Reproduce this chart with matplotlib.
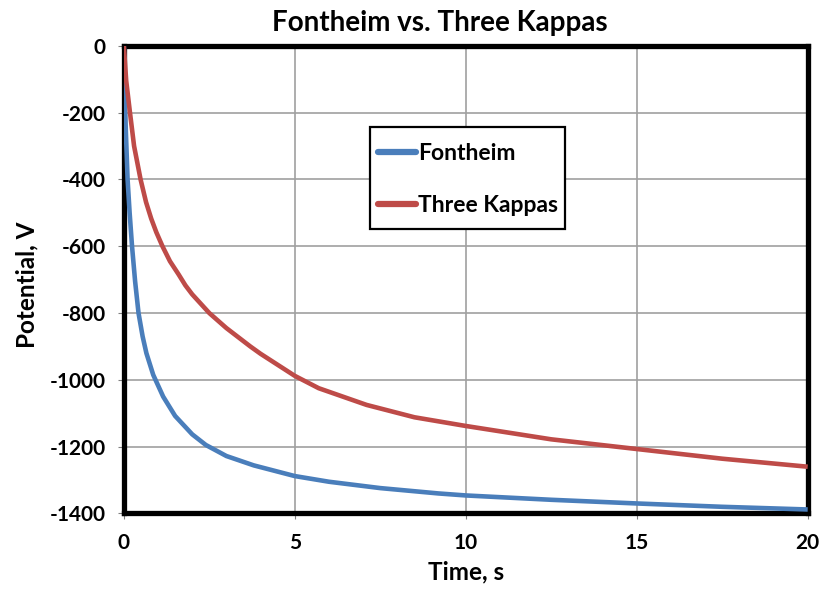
import matplotlib.pyplot as plt
from matplotlib.patches import Rectangle

# values
font_t = [0, 0.04, 0.11, 0.17, 0.24, 0.33, 0.43, 0.55, 0.66, 0.86, 1.15, 1.5, 2.0, 2.4, 3.0, 3.8, 5.0,
          6.0, 7.5, 9.2, 10.0, 12.5, 15.0, 17.5, 20.0]
font_v = [0, -200, -400, -500, -600, -705, -800, -870, -920, -985, -1050, -1108, -1163, -1195, -1228, -1256, -1288,
          -1305, -1324, -1340, -1346, -1359, -1370, -1380, -1388]

kappa_t = [0, 0.07, 0.18, 0.3, 0.49, 0.65, 0.8, 0.95, 1.13, 1.35, 1.6, 1.8, 2.0, 2.5, 3.0, 3.7, 4.0, 5.0, 5.7,
           7.1, 8.5, 10.0, 12.5, 15.0, 17.5, 20.0]
kappa_v = [0, -105, -200, -300, -400, -468, -517, -558, -600, -645, -684, -717, -744, -800, -845, -900, -922, -988, -1025,
           -1075, -1112, -1138, -1178, -1207, -1236, -1260]

xticks = [0, 5, 10, 15, 20]
yticks = [0, -200, -400, -600, -800, -1000, -1200, -1400]

plt.rcParams['font.family'] = ['Lato', 'DejaVu Sans']
plt.rcParams['font.weight'] = 'bold'
plt.rcParams['axes.unicode_minus'] = False

fig = plt.figure(figsize=(8.2, 5.95), dpi=100)
ax = fig.add_axes([0.151, 0.137, 0.834, 0.786])

ax.plot(font_t, font_v, color='#4a7ebb', lw=3.3, label='Fontheim', zorder=3,
        solid_capstyle='butt', solid_joinstyle='round')
ax.plot(kappa_t, kappa_v, color='#be4b48', lw=3.3, label='Three Kappas', zorder=3,
        solid_capstyle='butt', solid_joinstyle='round')

ax.set_xlim(0, 20)
ax.set_ylim(-1400, 0)
ax.set_xticks(xticks)
ax.set_yticks(yticks)
ax.tick_params(labelsize=15, direction='out', length=4, color='#808080')
ax.tick_params(axis='x', pad=10)
ax.tick_params(axis='y', pad=9)
for lab in ax.get_xticklabels() + ax.get_yticklabels():
    lab.set_fontweight('bold')
ax.grid(True, color='#a0a0a0', lw=1.2)
ax.set_axisbelow(True)
for s in ax.spines.values():
    s.set_linewidth(3.8)
    s.set_color('black')

ax.set_title('Fontheim vs. Three Kappas', fontsize=20, fontweight='bold', pad=11, x=0.462)
ax.set_xlabel('Time, s', fontsize=17.5, fontweight='bold')
ax.set_ylabel('Potential, V', fontsize=17.5, fontweight='bold')
ax.xaxis.set_label_coords(0.5, -0.1)
ax.yaxis.set_label_coords(-0.125, 0.49)

# legend frame drawn as its own box so its size matches the original
box = Rectangle((0.3596, 0.6085), 0.285, 0.2182, transform=ax.transAxes,
                facecolor='white', edgecolor='black', lw=1.6, zorder=4)
ax.add_patch(box)
leg = ax.legend(loc='upper left', bbox_to_anchor=(0.371, 0.792), fontsize=16.5,
                frameon=False, handlelength=1.7, handletextpad=0.08,
                labelspacing=1.36, borderpad=0, borderaxespad=0)
leg.set_zorder(5)
for t in leg.get_texts():
    t.set_fontweight('bold')
for h in leg.get_lines():
    h.set_linewidth(4.5)
    h.set_solid_capstyle('round')

fig.savefig('out.png', dpi=100)
